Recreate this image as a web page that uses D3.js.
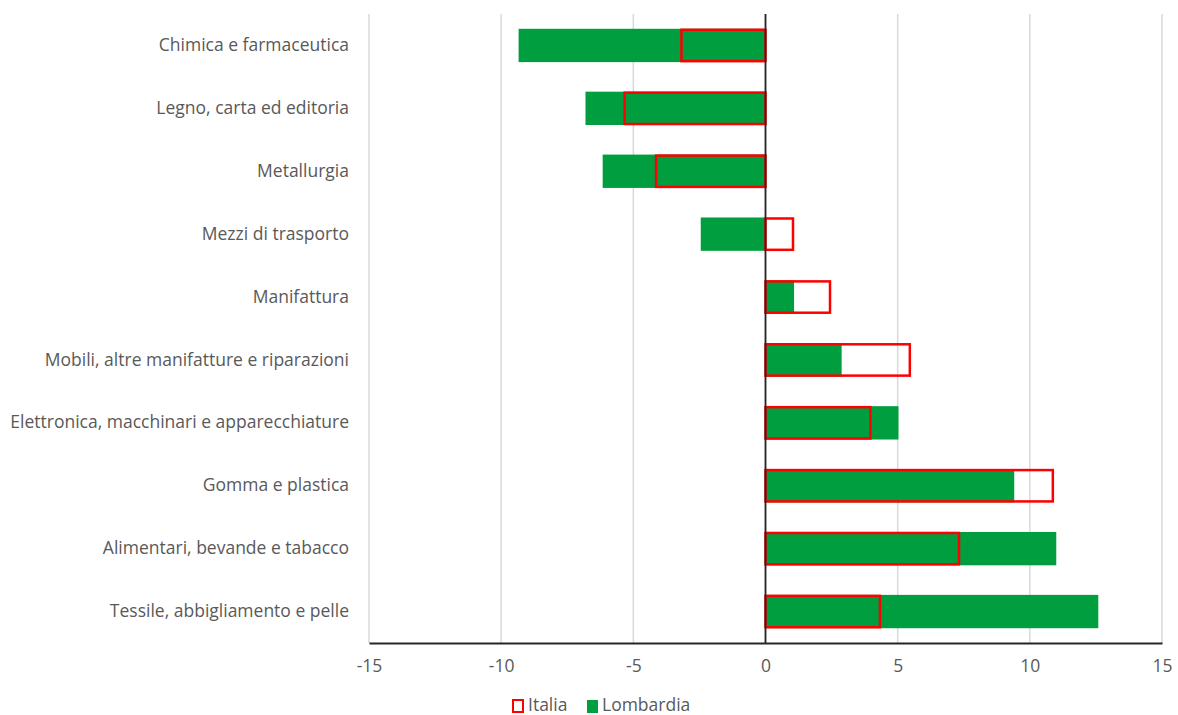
<!DOCTYPE html>
<html>
<head>
<meta charset="utf-8">
<script src="https://cdn.jsdelivr.net/npm/d3@7"></script>
<style>
  html, body { margin: 0; padding: 0; background: #fff; }
  svg { display: block; }
  text { font-family: "Open Sans", "Noto Sans", sans-serif; fill: #595959; }
</style>
</head>
<body>
<svg id="chart" width="1178" height="715"></svg>
<script>
// Sectors, top to bottom
const categories = [
  "Chimica e farmaceutica",
  "Legno, carta ed editoria",
  "Metallurgia",
  "Mezzi di trasporto",
  "Manifattura",
  "Mobili, altre manifatture e riparazioni",
  "Elettronica, macchinari e apparecchiature",
  "Gomma e plastica",
  "Alimentari, bevande e tabacco",
  "Tessile, abbigliamento e pelle"
];
const lombardia = [-9.34, -6.81, -6.16, -2.45, 1.08, 2.88, 5.03, 9.41, 11.0, 12.59];
const italia    = [-3.18, -5.33, -4.14, 1.04, 2.44, 5.46, 3.97, 10.87, 7.32, 4.33];
const xTicks = [-15, -10, -5, 0, 5, 10, 15];
const seriesNames = ["Italia", "Lombardia"];

const svg = d3.select("#chart");
const plot = { left: 369, right: 1162, top: 14, bottom: 643 };
const FONT_SIZE = 17.5;

const x = d3.scaleLinear().domain([-15, 15]).range([plot.left, plot.right]);
const y = d3.scaleBand().domain(categories).range([plot.top, plot.bottom]).paddingInner(0.47).paddingOuter(0.235);

const GREEN = "#009E3F", RED = "#FF0000";

// vertical gridlines
svg.append("g").selectAll("line").data(xTicks).join("line")
  .attr("x1", d => x(d)).attr("x2", d => x(d))
  .attr("y1", plot.top).attr("y2", plot.bottom)
  .attr("stroke", "#d9d9d9").attr("stroke-width", 1.5);

// Lombardia bars (filled)
svg.append("g").selectAll("rect").data(categories).join("rect")
  .attr("x", (d, i) => x(Math.min(0, lombardia[i])))
  .attr("width", (d, i) => Math.abs(x(lombardia[i]) - x(0)))
  .attr("y", d => y(d))
  .attr("height", y.bandwidth())
  .attr("fill", GREEN);

// Italia bars (outline only, overlaid)
svg.append("g").selectAll("rect").data(categories).join("rect")
  .attr("x", (d, i) => x(Math.min(0, italia[i])))
  .attr("width", (d, i) => Math.abs(x(italia[i]) - x(0)))
  .attr("y", d => y(d) + 1)
  .attr("height", y.bandwidth() - 2)
  .attr("fill", "none")
  .attr("stroke", RED).attr("stroke-width", 2.5);

// zero line
svg.append("line")
  .attr("x1", x(0)).attr("x2", x(0)).attr("y1", plot.top).attr("y2", plot.bottom)
  .attr("stroke", "#262626").attr("stroke-width", 1.8);

// bottom axis (plain hyphen for negatives)
const xAxis = d3.axisBottom(x).tickValues(xTicks).tickSize(0).tickPadding(17)
  .tickFormat(d => String(d));
const gx = svg.append("g").attr("transform", `translate(0,${plot.bottom})`).call(xAxis);
gx.select(".domain").attr("stroke", "#262626").attr("stroke-width", 2);
gx.selectAll("text").attr("font-size", FONT_SIZE).style("font-family", '"Open Sans", sans-serif').attr("fill", "#595959");

// category labels
const yAxis = d3.axisLeft(y).tickSize(0).tickPadding(20);
const gy = svg.append("g").attr("transform", `translate(${plot.left},0)`).call(yAxis);
gy.select(".domain").remove();
gy.selectAll("text").attr("font-size", FONT_SIZE).style("font-family", '"Open Sans", sans-serif').attr("fill", "#595959");

// legend
const legend = svg.append("g").attr("transform", "translate(0,705)");
legend.append("rect").attr("x", 513).attr("y", -5).attr("width", 10).attr("height", 12)
  .attr("fill", "none").attr("stroke", RED).attr("stroke-width", 2);
legend.append("text").attr("x", 528).attr("y", 0).attr("dy", "0.35em")
  .attr("font-size", FONT_SIZE).text(seriesNames[0]);
legend.append("rect").attr("x", 587).attr("y", -5).attr("width", 11).attr("height", 13)
  .attr("fill", GREEN);
legend.append("text").attr("x", 602).attr("y", 0).attr("dy", "0.35em")
  .attr("font-size", FONT_SIZE).text(seriesNames[1]);
</script>
</body>
</html>
